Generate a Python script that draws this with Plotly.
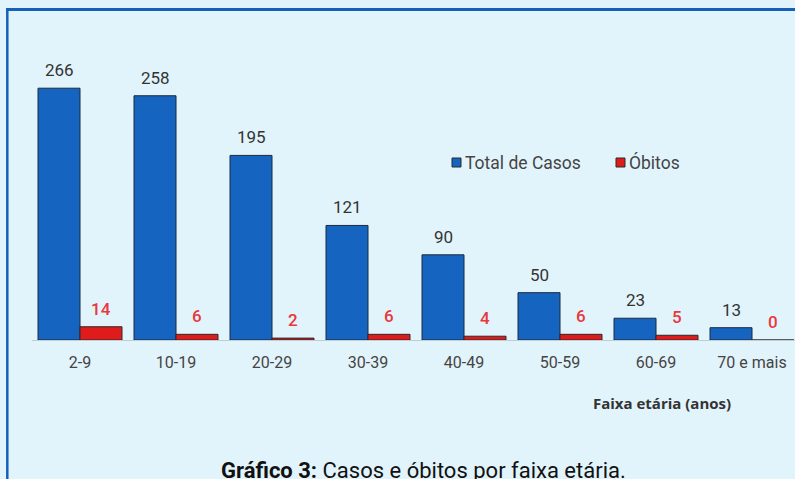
import plotly.graph_objects as go

categories = ["2-9", "10-19", "20-29", "30-39", "40-49", "50-59", "60-69", "70 e mais"]
total_casos = [266, 258, 195, 121, 90, 50, 23, 13]
obitos = [14, 6, 2, 6, 4, 6, 5, 0]
legend_names = ["Total de Casos", "Óbitos"]

BG = "#E2F4FB"
BLUE = "#1565C0"
RED = "#E01B1B"
W, H = 795, 479
# reference pixel coordinates of plot area: x 32..795, y 56..340
L, T, R = 32, 56, 0
B = H - 340
PW = W - L - R
PH = H - T - B

def px_x(px):
    return (px - L) / PW

def px_y(py):
    return (H - B - py) / PH

fig = go.Figure()
fig.add_trace(go.Bar(
    x=categories, y=total_casos, name=legend_names[0], showlegend=False,
    marker=dict(color=BLUE, line=dict(color="#1d2b3a", width=1)),
))
fig.add_trace(go.Bar(
    x=categories, y=obitos, name=legend_names[1], showlegend=False,
    marker=dict(color=RED, line=dict(color="#2a2a2a", width=1)),
))

annotations = []
for c, v in zip(categories, total_casos):
    annotations.append(dict(x=c, y=v, xref="x", yref="y", text=str(v), showarrow=False,
                            xshift=-21, yshift=6, yanchor="bottom",
                            font=dict(family="Roboto", size=17, color="#333333")))
for c, v in zip(categories, obitos):
    annotations.append(dict(x=c, y=v, xref="x", yref="y", text=str(v), showarrow=False,
                            xshift=21, yshift=6, yanchor="bottom",
                            font=dict(family="Roboto Medium, Roboto", size=17, color="#E8383D")))

annotations.append(dict(x=px_x(662), y=px_y(403), xref="paper", yref="paper",
                        text="<b>Faixa etária (anos)</b>", showarrow=False,
                        xanchor="center", yanchor="middle",
                        font=dict(family="Open Sans", size=15, color="#333333")))
annotations.append(dict(x=px_x(423), y=px_y(456), xref="paper", yref="paper",
                        text="<b>Gráfico 3:</b> Casos e óbitos por faixa etária.", showarrow=False,
                        xanchor="center", yanchor="top",
                        font=dict(family="Roboto", size=22, color="#111111")))

# custom legend
legend_items = [(legend_names[0], BLUE, 452), (legend_names[1], RED, 616)]
shapes = []
for name, col, lx in legend_items:
    shapes.append(dict(type="rect", xref="paper", yref="paper",
                       x0=px_x(lx), x1=px_x(lx + 9), y0=px_y(167), y1=px_y(158),
                       fillcolor=col, line=dict(color="#2a2a2a", width=1)))
    annotations.append(dict(x=px_x(lx + 11), y=px_y(162.5), xref="paper", yref="paper",
                            text=name, showarrow=False, xanchor="left", yanchor="middle",
                            font=dict(family="Roboto", size=17.5, color="#444444")))

shapes += [
    dict(type="line", xref="paper", yref="paper", x0=px_x(6), x1=px_x(810),
         y0=px_y(9.5), y1=px_y(9.5), line=dict(color="#1460BA", width=3)),
    dict(type="line", xref="paper", yref="paper", x0=px_x(7.3), x1=px_x(7.3),
         y0=px_y(8), y1=px_y(495), line=dict(color="#1460BA", width=2.5)),
]

fig.update_layout(
    width=W, height=H,
    margin=dict(l=L, r=R, t=T, b=B, pad=0),
    paper_bgcolor=BG, plot_bgcolor=BG,
    barmode="group", bargap=0.125, bargroupgap=0,
    showlegend=False,
    annotations=annotations,
    shapes=shapes,
    xaxis=dict(range=[-0.5, -0.5 + PW / 96.0], showgrid=False, showline=True,
               linecolor="#c3ccd1", linewidth=1, ticks="outside", ticklen=8,
               tickcolor="rgba(0,0,0,0)",
               tickfont=dict(family="Roboto", size=16, color="#444444")),
    yaxis=dict(range=[0, 300], visible=False, showgrid=False, zeroline=False),
)

fig.write_html("out.html", config={"displayModeBar": False},
               post_script="document.body.style.margin='0';document.body.style.overflow='hidden';")
